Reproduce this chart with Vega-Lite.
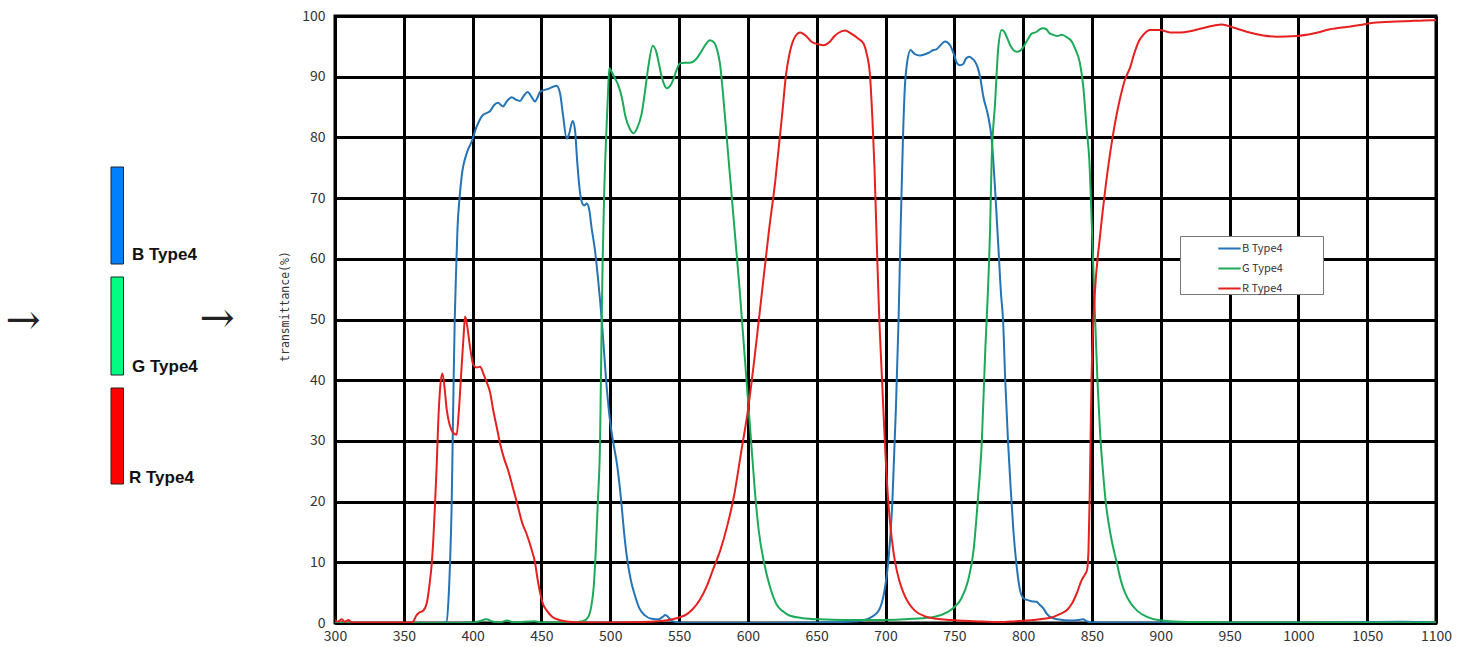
{
  "$schema": "https://vega.github.io/schema/vega-lite/v6.json",
  "padding": {"top": 7, "left": 5, "right": 5, "bottom": 5},
  "background": "white",
  "spacing": 3,
  "config": {"view": {"stroke": null}},
  "resolve": {"scale": {"color": "independent", "fill": "independent"}, "legend": {"color": "independent", "fill": "independent"}},
  "hconcat": [
    {
      "width": 268,
      "height": 607,
      "data": {"values": [
        {"kind": "bar", "name": "B Type4", "x1": 105, "x2": 117.5, "y1": 151, "y2": 248, "tx": 126, "ty": 244},
        {"kind": "bar", "name": "G Type4", "x1": 105, "x2": 117.5, "y1": 261, "y2": 359, "tx": 126, "ty": 356},
        {"kind": "bar", "name": "R Type4", "x1": 105, "x2": 117.5, "y1": 372, "y2": 468, "tx": 123, "ty": 467},
        {"kind": "arrow", "name": "→", "tx": 17, "ty": 305},
        {"kind": "arrow", "name": "→", "tx": 211, "ty": 303}
      ]},
      "layer": [
        {
          "transform": [{"filter": "datum.kind === 'bar'"}],
          "mark": {"type": "rect", "stroke": "#222", "strokeWidth": 1},
          "encoding": {
            "x": {"field": "x1", "type": "quantitative", "scale": {"domain": [0, 268]}, "axis": null},
            "x2": {"field": "x2"},
            "y": {"field": "y1", "type": "quantitative", "scale": {"domain": [0, 607], "reverse": true}, "axis": null},
            "y2": {"field": "y2"},
            "fill": {"field": "name", "type": "nominal", "scale": {"domain": ["B Type4", "G Type4", "R Type4"], "range": ["#0080ff", "#00ff80", "#ff0000"]}, "legend": null}
          }
        },
        {
          "transform": [{"filter": "datum.kind === 'bar'"}],
          "mark": {"type": "text", "align": "left", "baseline": "alphabetic", "font": "Liberation Sans", "fontWeight": "bold", "fontSize": 17, "color": "#111"},
          "encoding": {
            "x": {"field": "tx", "type": "quantitative", "scale": {"domain": [0, 268]}, "axis": null},
            "y": {"field": "ty", "type": "quantitative", "scale": {"domain": [0, 607], "reverse": true}, "axis": null},
            "text": {"field": "name"}
          }
        },
        {
          "transform": [{"filter": "datum.kind === 'arrow'"}],
          "mark": {"type": "text", "align": "center", "baseline": "middle", "font": "DejaVu Serif", "fontSize": 42, "fontWeight": 300, "color": "#222"},
          "encoding": {
            "x": {"field": "tx", "type": "quantitative", "scale": {"domain": [0, 268]}, "axis": null},
            "y": {"field": "ty", "type": "quantitative", "scale": {"domain": [0, 607], "reverse": true}, "axis": null},
            "text": {"field": "name"}
          }
        }
      ]
    },
    {
      "width": 1101,
      "height": 607,
      "view": {"stroke": "black", "strokeWidth": 3},
      "data": {"name": "curves"},
      "mark": {"type": "line", "strokeWidth": 2, "interpolate": "monotone", "clip": true},
      "encoding": {
        "x": {"field": "w", "type": "quantitative",
          "scale": {"domain": [300, 1100], "nice": false, "zero": false},
          "axis": {"title": null, "format": "d", "values": [300,350,400,450,500,550,600,650,700,750,800,850,900,950,1000,1050,1100],
            "grid": true, "gridColor": "black", "gridWidth": 3, "gridOpacity": 1,
            "domainColor": "black", "domainWidth": 3, "ticks": false,
            "labelFont": "Noto Sans CJK KR", "labelFontSize": 14, "labelColor": "#333", "labelPadding": 6, "labelFlush": false}},
        "y": {"field": "t", "type": "quantitative",
          "scale": {"domain": [0, 100], "nice": false},
          "axis": {"title": "transmittance(%)", "format": "d", "values": [0,10,20,30,40,50,60,70,80,90,100],
            "grid": true, "gridColor": "black", "gridWidth": 3, "gridOpacity": 1,
            "domainColor": "black", "domainWidth": 3, "ticks": false,
            "labelFont": "Noto Sans CJK KR", "labelFontSize": 14, "labelColor": "#333", "labelPadding": 10, "labelFlush": false,
            "titleFont": "DejaVu Sans Mono", "titleFontSize": 11.5, "titleFontWeight": "normal", "titleColor": "#333", "titlePadding": 8,
            "titleX": -45, "titleY": 290}},
        "color": {"field": "s", "type": "nominal",
          "scale": {"domain": ["B Type4", "G Type4", "R Type4"], "range": ["#2474b5", "#1daa58", "#e5201f"]},
          "legend": {"title": null, "orient": "none", "legendX": 845, "legendY": 220,
            "strokeColor": "#777", "fillColor": "white", "padding": 0,
            "symbolType": "stroke", "symbolSize": 500, "symbolStrokeWidth": 2, "symbolOffset": 37,
            "labelFont": "Noto Sans CJK KR", "labelFontSize": 11, "labelColor": "#333", "labelOffset": 0,
            "rowPadding": 2, "labelExpr": "datum.label + '\u2800\u2800\u2800\u2800\u2800'"}}
      }
    }
  ],
  "datasets": {
    "curves": [
      {"s":"B Type4","w":300,"t":0},{"s":"B Type4","w":340,"t":0},{"s":"B Type4","w":378,"t":0},{"s":"B Type4","w":381,"t":0.2},{"s":"B Type4","w":382.5,"t":4},{"s":"B Type4","w":383.6,"t":10},{"s":"B Type4","w":384.8,"t":20},{"s":"B Type4","w":385.5,"t":30},{"s":"B Type4","w":386.2,"t":40},{"s":"B Type4","w":387,"t":50},{"s":"B Type4","w":388,"t":58},{"s":"B Type4","w":389,"t":65},{"s":"B Type4","w":390.5,"t":70},{"s":"B Type4","w":392,"t":73.5},{"s":"B Type4","w":395.7,"t":77.4},{"s":"B Type4","w":399.3,"t":79.3},{"s":"B Type4","w":403,"t":81.8},{"s":"B Type4","w":407.5,"t":83.7},{"s":"B Type4","w":410,"t":84},{"s":"B Type4","w":412.6,"t":84.3},{"s":"B Type4","w":415.5,"t":85.3},{"s":"B Type4","w":418.4,"t":85.7},{"s":"B Type4","w":422,"t":85.1},{"s":"B Type4","w":425,"t":86},{"s":"B Type4","w":428.4,"t":86.6},{"s":"B Type4","w":431.5,"t":86.2},{"s":"B Type4","w":434.4,"t":86},{"s":"B Type4","w":437,"t":86.8},{"s":"B Type4","w":440,"t":87.5},{"s":"B Type4","w":443,"t":86.6},{"s":"B Type4","w":445.3,"t":85.9},{"s":"B Type4","w":447,"t":86.5},{"s":"B Type4","w":449,"t":87.5},{"s":"B Type4","w":455,"t":88},{"s":"B Type4","w":461,"t":88.5},{"s":"B Type4","w":463.5,"t":87.3},{"s":"B Type4","w":465.5,"t":84},{"s":"B Type4","w":468.4,"t":79.8},{"s":"B Type4","w":470,"t":80.5},{"s":"B Type4","w":472.7,"t":82.7},{"s":"B Type4","w":474.4,"t":81.2},{"s":"B Type4","w":476,"t":76},{"s":"B Type4","w":478,"t":71},{"s":"B Type4","w":479.3,"t":69.4},{"s":"B Type4","w":481,"t":68.8},{"s":"B Type4","w":482.9,"t":69.1},{"s":"B Type4","w":484.8,"t":68},{"s":"B Type4","w":486.5,"t":65},{"s":"B Type4","w":488.9,"t":61.4},{"s":"B Type4","w":491,"t":57},{"s":"B Type4","w":493.8,"t":50},{"s":"B Type4","w":497,"t":40},{"s":"B Type4","w":500,"t":33},{"s":"B Type4","w":502,"t":30},{"s":"B Type4","w":505,"t":26},{"s":"B Type4","w":508,"t":20},{"s":"B Type4","w":510,"t":15},{"s":"B Type4","w":512,"t":11},{"s":"B Type4","w":515,"t":7},{"s":"B Type4","w":518,"t":4.5},{"s":"B Type4","w":521,"t":2.5},{"s":"B Type4","w":525,"t":1.3},{"s":"B Type4","w":530,"t":0.7},{"s":"B Type4","w":535,"t":0.6},{"s":"B Type4","w":538,"t":1.0},{"s":"B Type4","w":540,"t":1.3},{"s":"B Type4","w":542,"t":1.0},{"s":"B Type4","w":545,"t":0.3},{"s":"B Type4","w":550,"t":0.1},{"s":"B Type4","w":560,"t":0},{"s":"B Type4","w":600,"t":0},{"s":"B Type4","w":650,"t":0.1},{"s":"B Type4","w":680,"t":0.3},{"s":"B Type4","w":690,"t":1},{"s":"B Type4","w":695,"t":2},{"s":"B Type4","w":699,"t":5},{"s":"B Type4","w":702,"t":10},{"s":"B Type4","w":705,"t":20},{"s":"B Type4","w":707.5,"t":35},{"s":"B Type4","w":709.5,"t":50},{"s":"B Type4","w":711,"t":65},{"s":"B Type4","w":712.7,"t":80},{"s":"B Type4","w":714,"t":88},{"s":"B Type4","w":715.5,"t":92},{"s":"B Type4","w":718.3,"t":94.4},{"s":"B Type4","w":720,"t":94},{"s":"B Type4","w":722.6,"t":93.6},{"s":"B Type4","w":725,"t":93.5},{"s":"B Type4","w":728.7,"t":93.7},{"s":"B Type4","w":732,"t":94},{"s":"B Type4","w":734.7,"t":94.4},{"s":"B Type4","w":737,"t":94.5},{"s":"B Type4","w":740,"t":95.2},{"s":"B Type4","w":743.2,"t":95.8},{"s":"B Type4","w":746.9,"t":95.2},{"s":"B Type4","w":750,"t":93.5},{"s":"B Type4","w":752,"t":92.2},{"s":"B Type4","w":754.1,"t":91.9},{"s":"B Type4","w":756.5,"t":92.1},{"s":"B Type4","w":758.5,"t":93},{"s":"B Type4","w":760.9,"t":93.3},{"s":"B Type4","w":763,"t":93},{"s":"B Type4","w":765,"t":92.5},{"s":"B Type4","w":767,"t":91.5},{"s":"B Type4","w":768.7,"t":90},{"s":"B Type4","w":771.1,"t":86.7},{"s":"B Type4","w":774.7,"t":83.4},{"s":"B Type4","w":777,"t":80},{"s":"B Type4","w":778.3,"t":76.3},{"s":"B Type4","w":780,"t":70},{"s":"B Type4","w":782,"t":62},{"s":"B Type4","w":784,"t":54},{"s":"B Type4","w":785.4,"t":50},{"s":"B Type4","w":787,"t":40},{"s":"B Type4","w":789,"t":30},{"s":"B Type4","w":791,"t":22},{"s":"B Type4","w":793,"t":15},{"s":"B Type4","w":795,"t":10},{"s":"B Type4","w":797.7,"t":5.5},{"s":"B Type4","w":800.2,"t":4.1},{"s":"B Type4","w":803,"t":3.8},{"s":"B Type4","w":806,"t":3.6},{"s":"B Type4","w":809.9,"t":3.5},{"s":"B Type4","w":812,"t":3.0},{"s":"B Type4","w":814.7,"t":2.4},{"s":"B Type4","w":817,"t":1.6},{"s":"B Type4","w":819.6,"t":1.0},{"s":"B Type4","w":825,"t":0.6},{"s":"B Type4","w":835,"t":0.4},{"s":"B Type4","w":840,"t":0.5},{"s":"B Type4","w":843.6,"t":0.6},{"s":"B Type4","w":846,"t":0.3},{"s":"B Type4","w":850,"t":0.1},{"s":"B Type4","w":900,"t":0.05},{"s":"B Type4","w":1000,"t":0.05},{"s":"B Type4","w":1076,"t":0.2},{"s":"B Type4","w":1100,"t":0.1},
      {"s":"G Type4","w":300,"t":0},{"s":"G Type4","w":350,"t":0},{"s":"G Type4","w":380,"t":0},{"s":"G Type4","w":400,"t":0.1},{"s":"G Type4","w":405,"t":0.3},{"s":"G Type4","w":410,"t":0.6},{"s":"G Type4","w":415,"t":0.2},{"s":"G Type4","w":420,"t":0.1},{"s":"G Type4","w":425,"t":0.4},{"s":"G Type4","w":430,"t":0.1},{"s":"G Type4","w":445,"t":0.3},{"s":"G Type4","w":450,"t":0.1},{"s":"G Type4","w":470,"t":0.1},{"s":"G Type4","w":480,"t":0.3},{"s":"G Type4","w":484,"t":1},{"s":"G Type4","w":486,"t":2.5},{"s":"G Type4","w":488,"t":6},{"s":"G Type4","w":489.5,"t":12},{"s":"G Type4","w":491,"t":20},{"s":"G Type4","w":492.6,"t":30},{"s":"G Type4","w":493.8,"t":50},{"s":"G Type4","w":494.5,"t":60},{"s":"G Type4","w":495.5,"t":70},{"s":"G Type4","w":497,"t":80},{"s":"G Type4","w":498.3,"t":87},{"s":"G Type4","w":499.3,"t":91.4},{"s":"G Type4","w":500.5,"t":91},{"s":"G Type4","w":503.5,"t":89.7},{"s":"G Type4","w":506,"t":88.5},{"s":"G Type4","w":508.3,"t":86.7},{"s":"G Type4","w":511,"t":83.5},{"s":"G Type4","w":514,"t":81.5},{"s":"G Type4","w":516.8,"t":80.7},{"s":"G Type4","w":519.5,"t":81.5},{"s":"G Type4","w":522.9,"t":84},{"s":"G Type4","w":525.5,"t":88},{"s":"G Type4","w":527.7,"t":91.7},{"s":"G Type4","w":530.9,"t":95.1},{"s":"G Type4","w":533.8,"t":93.8},{"s":"G Type4","w":535.5,"t":92},{"s":"G Type4","w":537.4,"t":90},{"s":"G Type4","w":539,"t":88.8},{"s":"G Type4","w":541,"t":88.1},{"s":"G Type4","w":543.5,"t":88.5},{"s":"G Type4","w":545.8,"t":89.5},{"s":"G Type4","w":548,"t":91},{"s":"G Type4","w":550.7,"t":92.2},{"s":"G Type4","w":554,"t":92.3},{"s":"G Type4","w":558,"t":92.3},{"s":"G Type4","w":562,"t":92.8},{"s":"G Type4","w":565.2,"t":93.8},{"s":"G Type4","w":569,"t":95.2},{"s":"G Type4","w":572.5,"t":96},{"s":"G Type4","w":575.5,"t":95.6},{"s":"G Type4","w":577.8,"t":94.3},{"s":"G Type4","w":579.7,"t":92.2},{"s":"G Type4","w":582,"t":87},{"s":"G Type4","w":585,"t":79},{"s":"G Type4","w":588,"t":71},{"s":"G Type4","w":591,"t":63},{"s":"G Type4","w":594,"t":55},{"s":"G Type4","w":597,"t":46},{"s":"G Type4","w":600,"t":37},{"s":"G Type4","w":602,"t":31},{"s":"G Type4","w":605,"t":22},{"s":"G Type4","w":608,"t":15},{"s":"G Type4","w":611.7,"t":10},{"s":"G Type4","w":616,"t":6},{"s":"G Type4","w":621,"t":3},{"s":"G Type4","w":625,"t":2},{"s":"G Type4","w":630.6,"t":1.2},{"s":"G Type4","w":640,"t":0.8},{"s":"G Type4","w":652,"t":0.6},{"s":"G Type4","w":670,"t":0.5},{"s":"G Type4","w":696,"t":0.5},{"s":"G Type4","w":720,"t":0.7},{"s":"G Type4","w":735,"t":1.0},{"s":"G Type4","w":745,"t":1.8},{"s":"G Type4","w":750,"t":2.6},{"s":"G Type4","w":755,"t":4},{"s":"G Type4","w":760,"t":7},{"s":"G Type4","w":764,"t":12},{"s":"G Type4","w":767,"t":20},{"s":"G Type4","w":770,"t":30},{"s":"G Type4","w":772.5,"t":45},{"s":"G Type4","w":774.5,"t":55},{"s":"G Type4","w":776,"t":65},{"s":"G Type4","w":777.1,"t":76},{"s":"G Type4","w":779.6,"t":85.6},{"s":"G Type4","w":782,"t":94.9},{"s":"G Type4","w":784.4,"t":97.7},{"s":"G Type4","w":786,"t":97.5},{"s":"G Type4","w":788,"t":96.6},{"s":"G Type4","w":791,"t":95},{"s":"G Type4","w":795.3,"t":94.1},{"s":"G Type4","w":798,"t":94.3},{"s":"G Type4","w":800.2,"t":94.9},{"s":"G Type4","w":803,"t":96},{"s":"G Type4","w":806.2,"t":97.1},{"s":"G Type4","w":809.9,"t":97.4},{"s":"G Type4","w":812,"t":97.8},{"s":"G Type4","w":814.7,"t":98},{"s":"G Type4","w":817,"t":97.8},{"s":"G Type4","w":819,"t":97.2},{"s":"G Type4","w":821.9,"t":96.9},{"s":"G Type4","w":825,"t":96.7},{"s":"G Type4","w":828,"t":96.9},{"s":"G Type4","w":831,"t":96.6},{"s":"G Type4","w":835.3,"t":95.8},{"s":"G Type4","w":838,"t":94.5},{"s":"G Type4","w":841.3,"t":92.2},{"s":"G Type4","w":843.7,"t":88.4},{"s":"G Type4","w":846.2,"t":81.2},{"s":"G Type4","w":848.1,"t":76.3},{"s":"G Type4","w":850,"t":65},{"s":"G Type4","w":852,"t":52},{"s":"G Type4","w":854,"t":40},{"s":"G Type4","w":856,"t":31},{"s":"G Type4","w":858,"t":25},{"s":"G Type4","w":860,"t":20},{"s":"G Type4","w":864,"t":14},{"s":"G Type4","w":868,"t":10},{"s":"G Type4","w":871,"t":7},{"s":"G Type4","w":874,"t":5},{"s":"G Type4","w":878,"t":3.3},{"s":"G Type4","w":883,"t":2},{"s":"G Type4","w":890,"t":1},{"s":"G Type4","w":900,"t":0.4},{"s":"G Type4","w":920,"t":0.15},{"s":"G Type4","w":950,"t":0.1},{"s":"G Type4","w":1000,"t":0.1},{"s":"G Type4","w":1100,"t":0.1},
      {"s":"R Type4","w":300,"t":0.5},{"s":"R Type4","w":302,"t":0.2},{"s":"R Type4","w":305,"t":0.6},{"s":"R Type4","w":307,"t":0.2},{"s":"R Type4","w":310,"t":0.5},{"s":"R Type4","w":312,"t":0.1},{"s":"R Type4","w":320,"t":0.1},{"s":"R Type4","w":340,"t":0.1},{"s":"R Type4","w":355,"t":0.1},{"s":"R Type4","w":357,"t":0.3},{"s":"R Type4","w":359,"t":1.2},{"s":"R Type4","w":361,"t":1.7},{"s":"R Type4","w":364,"t":2},{"s":"R Type4","w":366.6,"t":3.2},{"s":"R Type4","w":368.5,"t":6},{"s":"R Type4","w":370.3,"t":9.8},{"s":"R Type4","w":371.5,"t":14},{"s":"R Type4","w":372.7,"t":19.7},{"s":"R Type4","w":373.9,"t":26},{"s":"R Type4","w":375,"t":33},{"s":"R Type4","w":376.5,"t":39},{"s":"R Type4","w":378,"t":41.1},{"s":"R Type4","w":379.5,"t":39},{"s":"R Type4","w":381.2,"t":35.1},{"s":"R Type4","w":383.5,"t":32.5},{"s":"R Type4","w":386,"t":31.3},{"s":"R Type4","w":388.4,"t":31},{"s":"R Type4","w":390,"t":35},{"s":"R Type4","w":392,"t":42.2},{"s":"R Type4","w":393.5,"t":47.5},{"s":"R Type4","w":394.5,"t":50.5},{"s":"R Type4","w":396,"t":49},{"s":"R Type4","w":398.1,"t":45.5},{"s":"R Type4","w":400.5,"t":42.5},{"s":"R Type4","w":403,"t":42.1},{"s":"R Type4","w":405.4,"t":42.2},{"s":"R Type4","w":407.8,"t":41.1},{"s":"R Type4","w":410,"t":39.8},{"s":"R Type4","w":412.6,"t":38.1},{"s":"R Type4","w":415,"t":35},{"s":"R Type4","w":417.5,"t":32.3},{"s":"R Type4","w":420,"t":29.5},{"s":"R Type4","w":423,"t":27},{"s":"R Type4","w":426,"t":25},{"s":"R Type4","w":429,"t":22.5},{"s":"R Type4","w":432,"t":20},{"s":"R Type4","w":436,"t":16.5},{"s":"R Type4","w":439.5,"t":14.5},{"s":"R Type4","w":443,"t":12},{"s":"R Type4","w":445.3,"t":10},{"s":"R Type4","w":447,"t":7.5},{"s":"R Type4","w":449,"t":5},{"s":"R Type4","w":451,"t":3.2},{"s":"R Type4","w":454,"t":2},{"s":"R Type4","w":458,"t":1},{"s":"R Type4","w":463,"t":0.5},{"s":"R Type4","w":470,"t":0.2},{"s":"R Type4","w":480,"t":0.1},{"s":"R Type4","w":500,"t":0.1},{"s":"R Type4","w":530,"t":0.2},{"s":"R Type4","w":540,"t":0.4},{"s":"R Type4","w":550,"t":0.9},{"s":"R Type4","w":556,"t":1.5},{"s":"R Type4","w":560,"t":2.3},{"s":"R Type4","w":565,"t":3.8},{"s":"R Type4","w":570,"t":6},{"s":"R Type4","w":575,"t":9},{"s":"R Type4","w":580,"t":12},{"s":"R Type4","w":585,"t":16},{"s":"R Type4","w":590,"t":21},{"s":"R Type4","w":595,"t":28},{"s":"R Type4","w":600,"t":35},{"s":"R Type4","w":605,"t":44},{"s":"R Type4","w":610,"t":54},{"s":"R Type4","w":615,"t":64},{"s":"R Type4","w":620,"t":73},{"s":"R Type4","w":625,"t":84},{"s":"R Type4","w":627.7,"t":90.3},{"s":"R Type4","w":630,"t":93.5},{"s":"R Type4","w":633,"t":96},{"s":"R Type4","w":637.9,"t":97.3},{"s":"R Type4","w":642.8,"t":96.6},{"s":"R Type4","w":646,"t":95.8},{"s":"R Type4","w":650,"t":95.4},{"s":"R Type4","w":654.8,"t":95.2},{"s":"R Type4","w":659.7,"t":95.8},{"s":"R Type4","w":663,"t":96.7},{"s":"R Type4","w":665.7,"t":97.2},{"s":"R Type4","w":670.6,"t":97.6},{"s":"R Type4","w":673,"t":97.4},{"s":"R Type4","w":676.6,"t":96.9},{"s":"R Type4","w":680,"t":96.3},{"s":"R Type4","w":683.9,"t":95.5},{"s":"R Type4","w":686.3,"t":93.8},{"s":"R Type4","w":688.7,"t":90.3},{"s":"R Type4","w":690.5,"t":83},{"s":"R Type4","w":692,"t":75},{"s":"R Type4","w":694,"t":60},{"s":"R Type4","w":695.5,"t":50},{"s":"R Type4","w":697.5,"t":40},{"s":"R Type4","w":699.5,"t":30},{"s":"R Type4","w":702,"t":20},{"s":"R Type4","w":704.5,"t":14},{"s":"R Type4","w":707,"t":10},{"s":"R Type4","w":710,"t":7},{"s":"R Type4","w":713,"t":5},{"s":"R Type4","w":717,"t":3.2},{"s":"R Type4","w":721.5,"t":2},{"s":"R Type4","w":728.7,"t":1.1},{"s":"R Type4","w":737,"t":0.7},{"s":"R Type4","w":747,"t":0.5},{"s":"R Type4","w":765,"t":0.3},{"s":"R Type4","w":783,"t":0.15},{"s":"R Type4","w":795,"t":0.3},{"s":"R Type4","w":807.4,"t":0.5},{"s":"R Type4","w":815,"t":0.7},{"s":"R Type4","w":822,"t":1.0},{"s":"R Type4","w":827,"t":1.5},{"s":"R Type4","w":831.7,"t":2.1},{"s":"R Type4","w":835.5,"t":3.2},{"s":"R Type4","w":839,"t":4.9},{"s":"R Type4","w":842.6,"t":7.1},{"s":"R Type4","w":845,"t":8},{"s":"R Type4","w":846.5,"t":8.8},{"s":"R Type4","w":847.5,"t":12},{"s":"R Type4","w":848.3,"t":20},{"s":"R Type4","w":849,"t":30},{"s":"R Type4","w":849.7,"t":40},{"s":"R Type4","w":850.7,"t":48},{"s":"R Type4","w":852,"t":54},{"s":"R Type4","w":856,"t":64},{"s":"R Type4","w":860,"t":72},{"s":"R Type4","w":865,"t":80},{"s":"R Type4","w":870,"t":86},{"s":"R Type4","w":874,"t":89.5},{"s":"R Type4","w":877.7,"t":91.5},{"s":"R Type4","w":881,"t":94},{"s":"R Type4","w":884,"t":95.8},{"s":"R Type4","w":887.3,"t":96.9},{"s":"R Type4","w":892.2,"t":97.7},{"s":"R Type4","w":899.4,"t":97.7},{"s":"R Type4","w":906.7,"t":97.3},{"s":"R Type4","w":914,"t":97.3},{"s":"R Type4","w":921.3,"t":97.5},{"s":"R Type4","w":928.5,"t":97.9},{"s":"R Type4","w":938.2,"t":98.4},{"s":"R Type4","w":944.3,"t":98.6},{"s":"R Type4","w":952.7,"t":98.1},{"s":"R Type4","w":962.4,"t":97.4},{"s":"R Type4","w":974.5,"t":96.8},{"s":"R Type4","w":984.2,"t":96.6},{"s":"R Type4","w":998.8,"t":96.7},{"s":"R Type4","w":1010.9,"t":97.1},{"s":"R Type4","w":1023,"t":97.8},{"s":"R Type4","w":1035.1,"t":98.2},{"s":"R Type4","w":1044.8,"t":98.5},{"s":"R Type4","w":1054.5,"t":98.9},{"s":"R Type4","w":1071.5,"t":99.1},{"s":"R Type4","w":1083.6,"t":99.2},{"s":"R Type4","w":1098,"t":99.3},{"s":"R Type4","w":1100,"t":99.3}
    ]
  }
}
